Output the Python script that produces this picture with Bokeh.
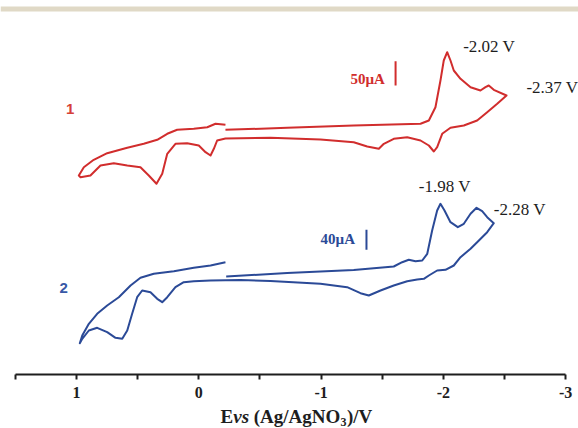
from bokeh.plotting import figure
from bokeh.models import Range1d, FixedTicker, Label, BoxAnnotation
from bokeh.embed import file_html
from bokeh.resources import INLINE

# ---------------- data (E in V vs Ag/AgNO3, current as offset trace units) -------------
# complex 1 (red), path in scan order
e1 = [-0.218, -0.723, -1.267, -1.813, -1.881, -1.935, -1.976, -2.003, -2.031, -2.058,
      -2.085, -2.140, -2.222, -2.303, -2.344, -2.371, -2.412, -2.516,
      -2.440, -2.358, -2.276, -2.167, -2.058, -1.990, -1.949, -1.922, -1.881, -1.813,
      -1.704, -1.594, -1.513, -1.472, -1.377, -1.267, -0.995, -0.586, -0.218, -0.150,
      -0.123, -0.096, -0.055, 0.000, 0.095, 0.191, 0.258, 0.299, 0.346, 0.409, 0.477,
      0.585, 0.695, 0.804, 0.886, 0.967, 0.981,
      0.940, 0.859, 0.749, 0.585, 0.450, 0.340, 0.258, 0.177, 0.041, -0.069, -0.137, -0.218]
i1 = [244.7, 246.7, 249.0, 250.7, 254.0, 267.3, 294.0, 314.0, 322.3, 314.0,
      304.0, 295.7, 287.3, 284.0, 287.3, 289.0, 284.7, 279.0,
      270.7, 262.3, 254.0, 249.0, 246.7, 240.7, 227.3, 223.0, 229.0, 234.0,
      237.3, 235.7, 230.7, 225.7, 228.0, 232.3, 235.0, 236.7, 236.0, 234.0,
      225.7, 219.0, 222.3, 229.0, 231.3, 230.7, 220.7, 200.7, 190.7, 199.0, 207.3,
      209.0, 211.3, 209.0, 199.0, 197.3, 199.0,
      207.3, 214.7, 221.3, 226.7, 230.7, 234.7, 240.7, 244.7, 245.7, 247.3, 250.7, 249.7]

# complex 2 (blue), path in scan order
e2 = [-0.224, -0.723, -1.267, -1.594, -1.663, -1.717, -1.772, -1.827, -1.868, -1.908,
      -1.949, -1.976, -2.009, -2.058, -2.118, -2.167, -2.222, -2.271, -2.317, -2.358, -2.412,
      -2.358, -2.276, -2.222, -2.140, -2.085, -2.017, -1.949, -1.881, -1.840, -1.786,
      -1.704, -1.594, -1.486, -1.390, -1.322, -1.213, -0.995, -0.586, -0.341, -0.096,
      0.041, 0.123, 0.191, 0.258, 0.299, 0.340, 0.395, 0.463, 0.504, 0.545, 0.585,
      0.626, 0.681, 0.749, 0.831, 0.899, 0.953, 0.973,
      0.953, 0.899, 0.831, 0.749, 0.654, 0.558, 0.477, 0.368, 0.204, 0.041, -0.096, -0.218]
i2 = [98.0, 101.5, 104.5, 108.0, 112.3, 114.7, 113.3, 114.0, 120.7, 144.0,
      164.0, 170.7, 164.0, 152.3, 147.3, 150.7, 160.7, 166.7, 163.3, 157.3, 151.3,
      142.3, 132.3, 125.7, 117.3, 109.0, 104.7, 104.0, 99.0, 95.7, 95.0,
      93.3, 89.0, 84.0, 79.0, 81.3, 87.3, 90.7, 93.5, 94.5, 94.0,
      93.3, 92.3, 87.3, 77.3, 72.3, 75.7, 82.3, 84.0, 77.3, 60.7, 44.0,
      35.7, 36.7, 42.3, 46.7, 44.0, 35.7, 31.3,
      39.0, 50.7, 60.7, 69.0, 77.3, 89.0, 96.7, 100.7, 103.3, 106.7, 109.0, 112.3]

tick_values = [1, 0, -1, -2, -3]
minor_values = [1.5, 0.5, -0.5, -1.5, -2.5]
tick_labels = ["1", "0", "-1", "-2", "-3"]

peak_labels_1 = ["-2.02 V", "-2.37 V"]
peak_labels_2 = ["-1.98 V", "-2.28 V"]
scale_labels = ["50\u00b5A", "40\u00b5A"]
curve_names = ["1", "2"]
title_parts = ["E", "vs", "(Ag/AgNO", "3", ")/V"]

RED = "#d12d2d"
BLUE = "#2b4a97"
TXT = "#1e1e1e"
SERIF = "Liberation Serif"
SANS = "Liberation Sans"

p = figure(width=578, height=428, output_backend="svg", toolbar_location=None,
           x_range=Range1d(1.6214, -3.1047), y_range=Range1d(-54, 374),
           y_axis_location=None, min_border_left=0, min_border_right=0,
           min_border_top=0, min_border_bottom=0)
p.grid.visible = False
p.outline_line_color = None
p.background_fill_color = "white"
p.border_fill_color = "white"

# top decorative band
p.add_layout(BoxAnnotation(bottom=363, top=368, fill_color="#e0d9c6", fill_alpha=1.0, line_alpha=0))

p.line(e1, i1, line_color=RED, line_width=2, line_join="round")
p.line(e2, i2, line_color=BLUE, line_width=2, line_join="round")

# scale bars
p.segment(x0=[-1.609], y0=[289.0], x1=[-1.609], y1=[313.3], line_color=RED, line_width=2)
p.segment(x0=[-1.371], y0=[124.7], x1=[-1.371], y1=[144.7], line_color=BLUE, line_width=2)

ax = p.xaxis[0]
ax.fixed_location = 0
ax.bounds = (-3, 1.5)
ax.ticker = FixedTicker(ticks=tick_values, minor_ticks=minor_values)
ax.major_label_overrides = {v: s for v, s in zip(tick_values, tick_labels)}
ax.axis_line_width = 2
ax.axis_line_color = TXT
ax.major_tick_line_width = 2
ax.minor_tick_line_width = 2
ax.major_tick_line_color = TXT
ax.minor_tick_line_color = TXT
ax.major_tick_in = 0
ax.major_tick_out = 5
ax.minor_tick_in = 0
ax.minor_tick_out = 5
ax.major_label_text_font = SERIF
ax.major_label_text_font_style = "bold"
ax.major_label_text_font_size = "16px"
ax.major_label_text_color = TXT
ax.major_label_standoff = 7
ax.axis_label = None


def lab(x, y, text, size, color, font=SERIF, style="normal", align="left",
        baseline="middle", xo=0, yo=0):
    p.add_layout(Label(x=x, y=y, text=text, text_font=font, text_font_size=size,
                       text_font_style=style, text_color=color, text_align=align,
                       text_baseline=baseline, x_offset=xo, y_offset=yo))


# curve numbers
lab(1.051, 265.7, curve_names[0], "15px", "#d64038", font=SANS, style="bold", align="center")
lab(1.104, 87.0, curve_names[1], "15px", "#3858a6", font=SANS, style="bold", align="center")

# peak potentials
lab(-2.162, 328.0, peak_labels_1[0], "17px", TXT)
lab(-2.679, 287.3, peak_labels_1[1], "17px", TXT)
lab(-1.799, 188.0, peak_labels_2[0], "17px", TXT)
lab(-2.412, 165.0, peak_labels_2[1], "17px", TXT)

# scale bar labels
lab(-1.240, 296.0, scale_labels[0], "15px", RED, style="bold")
lab(-0.995, 135.3, scale_labels[1], "15px", BLUE, style="bold")

# x-axis title: E vs (Ag/AgNO3)/V
tx, ty = -0.1774, -42
lab(tx, ty, title_parts[0], "19px", TXT, style="bold", xo=0)
lab(tx, ty, title_parts[1], "19px", TXT, style="bold italic", xo=12.7)
lab(tx, ty, title_parts[2], "19px", TXT, style="bold", xo=33.3)
lab(tx, ty, title_parts[3], "12px", TXT, style="bold", xo=120.0, yo=-5)
lab(tx, ty, title_parts[4], "19px", TXT, style="bold", xo=126.5)

open("out.html", "w").write(file_html(p, INLINE))
